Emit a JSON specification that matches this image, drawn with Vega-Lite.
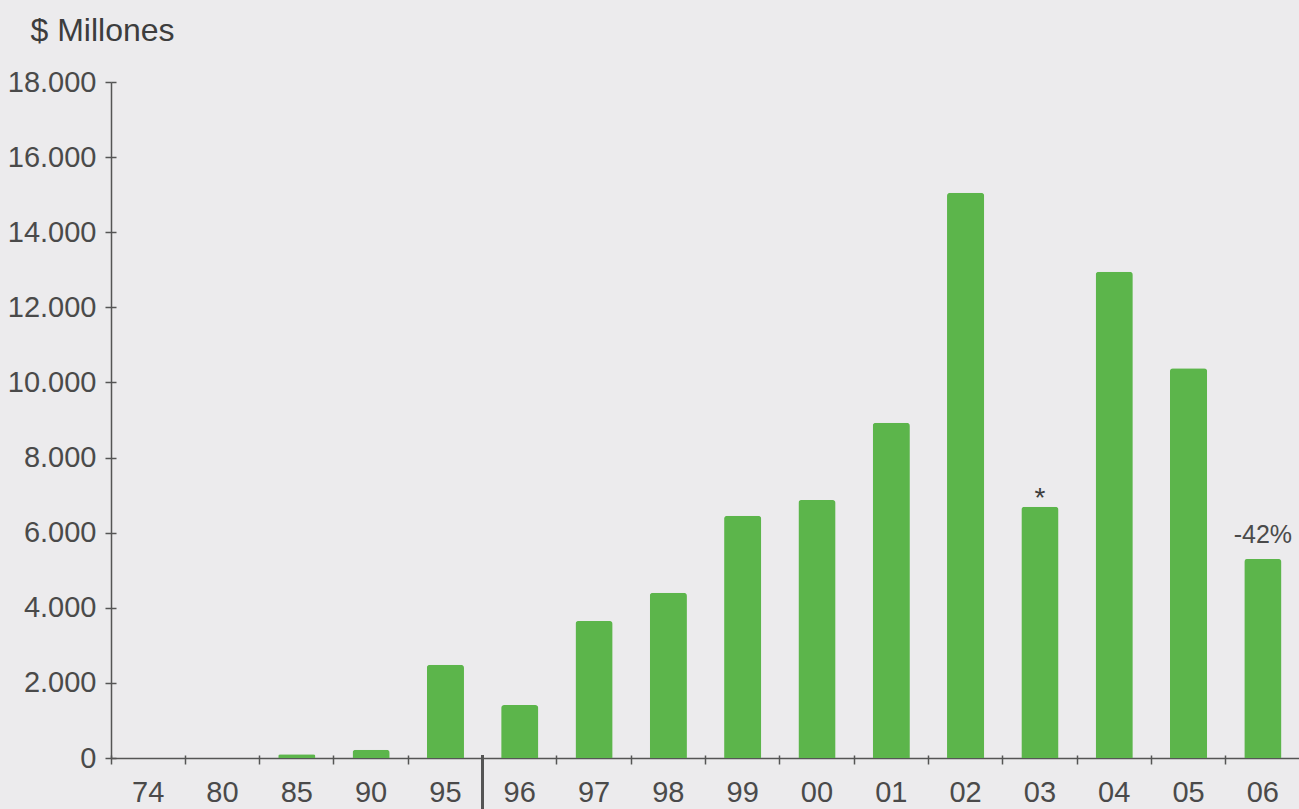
{
  "$schema": "https://vega.github.io/schema/vega-lite/v6.json",
  "width": 1189,
  "height": 676,
  "autosize": "none",
  "padding": {"left": 111, "top": 82, "right": 0, "bottom": 51},
  "background": "#ecebed",
  "config": {
    "view": {"stroke": null},
    "font": "Liberation Sans",
    "axis": {"domainColor": "#555555", "tickColor": "#555555", "labelColor": "#4a4a4a", "labelFont": "Liberation Sans", "grid": false, "domainWidth": 1.5, "tickWidth": 1.5}
  },
  "data": {
    "values": [
      {"year": "74", "value": 0, "label": ""},
      {"year": "80", "value": 0, "label": ""},
      {"year": "85", "value": 100, "label": ""},
      {"year": "90", "value": 220, "label": ""},
      {"year": "95", "value": 2480, "label": ""},
      {"year": "96", "value": 1410, "label": ""},
      {"year": "97", "value": 3650, "label": ""},
      {"year": "98", "value": 4400, "label": ""},
      {"year": "99", "value": 6450, "label": ""},
      {"year": "00", "value": 6870, "label": ""},
      {"year": "01", "value": 8930, "label": ""},
      {"year": "02", "value": 15050, "label": ""},
      {"year": "03", "value": 6690, "label": "*"},
      {"year": "04", "value": 12950, "label": ""},
      {"year": "05", "value": 10380, "label": ""},
      {"year": "06", "value": 5300, "label": "-42%"}
    ]
  },
  "layer": [
    {
      "mark": {"type": "bar", "color": "#5cb54b", "cornerRadiusTopLeft": 3, "cornerRadiusTopRight": 3},
      "encoding": {
        "x": {
          "field": "year", "type": "ordinal", "sort": null,
          "scale": {"domain": ["74", "80", "85", "90", "95", "96", "97", "98", "99", "00", "01", "02", "03", "04", "05", "06"], "paddingInner": 0.5, "paddingOuter": 0.25},
          "axis": {"orient": "bottom", "title": null, "bandPosition": -0.5, "tickSize": 6, "labelAngle": 0, "labelFontSize": 29, "labelPadding": 14}
        },
        "y": {
          "field": "value", "type": "quantitative",
          "scale": {"domain": [0, 18000], "nice": false},
          "axis": {
            "orient": "left",
            "values": [0, 2000, 4000, 6000, 8000, 10000, 12000, 14000, 16000, 18000],
            "labelExpr": "replace(format(datum.value, ','), ',', '.')",
            "tickSize": 6, "labelPadding": 9, "labelFontSize": 29,
            "title": "$ Millones", "titleAngle": 0, "titleAlign": "left", "titleBaseline": "alphabetic",
            "titleX": -81, "titleY": -42, "titleFontSize": 32, "titleFontWeight": "normal", "titleColor": "#3d3d3d", "titleFont": "Liberation Sans"
          }
        }
      }
    },
    {
      "mark": {"type": "rule", "color": "#555555", "strokeWidth": 1.5},
      "encoding": {
        "x": {"datum": "96", "type": "ordinal", "bandPosition": -0.5,
              "axis": {"orient": "bottom", "title": null, "domain": false, "labels": false, "bandPosition": -0.5, "tickSize": 3, "offset": -3}},
        "y": {"datum": 80, "type": "quantitative",
              "axis": {"orient": "left", "title": null, "domain": false, "labels": false, "tickSize": 5, "offset": -5,
                       "values": [0, 2000, 4000, 6000, 8000, 10000, 12000, 14000, 16000, 18000]}},
        "y2": {"datum": -1400}
      }
    },
    {
      "transform": [{"filter": "datum.year === '03'"}],
      "mark": {"type": "text", "baseline": "alphabetic", "fontSize": 28, "color": "#3d3d3d", "dy": 0},
      "encoding": {
        "x": {"field": "year", "type": "ordinal", "axis": null},
        "y": {"field": "value", "type": "quantitative", "axis": null},
        "text": {"field": "label"}
      }
    },
    {
      "transform": [{"filter": "datum.year === '06'"}],
      "mark": {"type": "text", "baseline": "alphabetic", "fontSize": 25, "color": "#4a4a4a", "dy": -16},
      "encoding": {
        "x": {"field": "year", "type": "ordinal", "axis": null},
        "y": {"field": "value", "type": "quantitative", "axis": null},
        "text": {"field": "label"}
      }
    }
  ],
  "resolve": {"axis": {"x": "independent", "y": "independent"}}
}
